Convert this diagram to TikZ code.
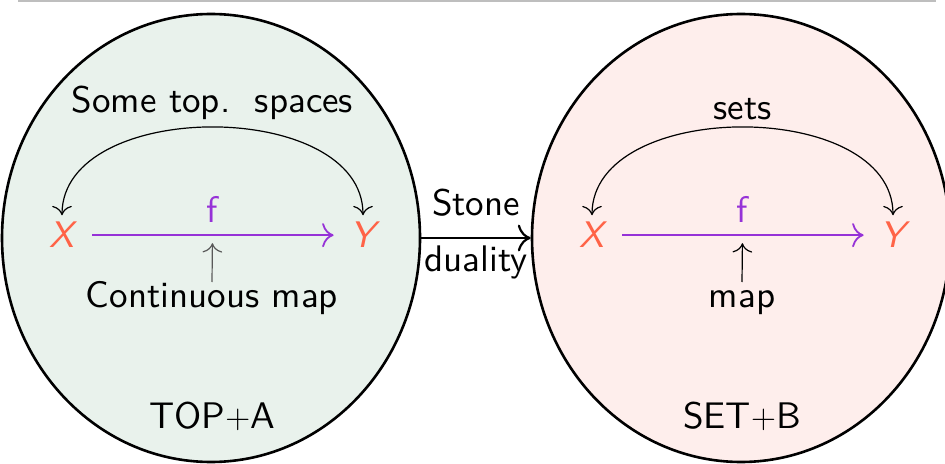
\documentclass[tikz,border=0pt]{standalone}
\usepackage{fontspec}
\setsansfont{lmsans10-regular.otf}[ItalicFont=lmsans10-oblique.otf, SlantedFont=lmsans10-oblique.otf, BoldFont=lmsans10-bold.otf]
\usetikzlibrary{shapes.geometric,arrows.meta}
\definecolor{topfill}{RGB}{233,242,236}
\definecolor{setfill}{RGB}{254,238,236}
\definecolor{xycol}{RGB}{255,99,71}
\definecolor{fcol}{RGB}{150,50,215}
\definecolor{rulegray}{RGB}{190,190,190}
\begin{document}
\begin{tikzpicture}[x=0.5pt,y=0.5pt,
  >={To[scale=1.6]},
  every node/.style={font=\fontsize{18.5}{22}\selectfont\sffamily},
  world/.style={ellipse, draw=black, line width=1.3pt, minimum width=209pt, minimum height=224pt, inner sep=0pt},
  obj/.style={text=xycol, font=\fontsize{18.5}{22}\selectfont\sffamily\slshape, anchor=base},
  farrow/.style={->, draw=fcol, line width=0.9pt, shorten <=5.5pt, shorten >=5pt},
  flbl/.style={text=fcol, above=2.5pt},
  curv/.style={<->, line width=0.6pt},
  uparr/.style={->, line width=0.6pt, shorten >=4pt},
  lbl/.style={anchor=north, inner sep=0pt, text height=12.7pt},
  title/.style={anchor=base},
  stonearr/.style={->, line width=1.1pt}]
\useasboundingbox (0,0) rectangle (945,-464);
\coordinate (r1) at (18,-1);
\coordinate (r2) at (936,-1);
\draw[rulegray, line width=0.6pt] (r1) -- (r2);
\node[world, fill=topfill] (L) at (211,-238) {};
\node[world, fill=setfill] (R) at (741,-238) {};
% left world
\node[obj] (X1) at (62,-248) {X};
\node[obj] (Y1) at (363,-248) {Y};
\draw[farrow] (X1.east) -- coordinate[midway] (m1) node[midway, flbl] (f1) {f} (Y1.west);
\draw[curv] (X1.north) to[out=90,in=90] node[above] (s1) {Some top.\ \ spaces} (Y1.north);
\node[lbl] (c1) at (212,-282) {Continuous map};
\draw[uparr, black!65] (c1.north) -- (m1);
\node[title] (t1) at (212,-428) {TOP$+$A};
% right world
\node[obj] (X2) at (592,-248) {X};
\node[obj] (Y2) at (893,-248) {Y};
\draw[farrow] (X2.east) -- coordinate[midway] (m2) node[midway, flbl] (f2) {f} (Y2.west);
\draw[curv] (X2.north) to[out=90,in=90] node[above] (s2) {sets} (Y2.north);
\node[lbl] (c2) at (742,-282) {map};
\draw[uparr] (c2.north) -- (m2);
\node[title] (t2) at (742,-428) {SET$+$B};
% duality arrow
\draw[stonearr] (L.east) -- node[above=7pt] (sd1) {Stone} node[below] (sd2) {duality} (R.west);
\end{tikzpicture}
\end{document}
